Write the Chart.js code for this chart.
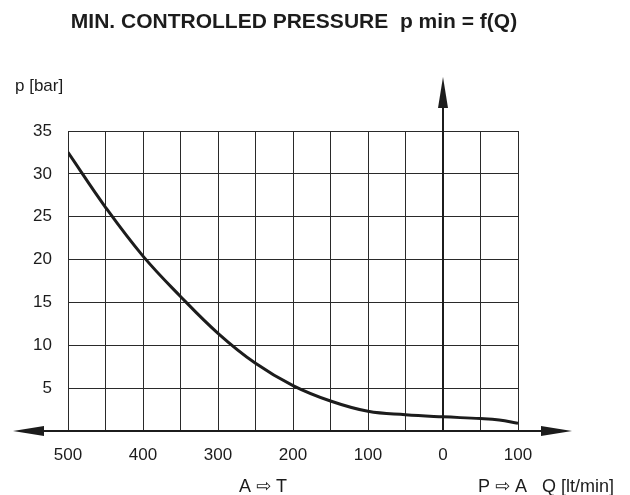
<!DOCTYPE html>
<html>
<head>
<meta charset="utf-8">
<script src="https://cdn.jsdelivr.net/npm/chart.js@4.4.1/dist/chart.umd.min.js"></script>
<style>
	html, body { margin: 0; padding: 0; background: #fff; }
	#wrap { width: 630px; height: 495px; position: relative; }
</style>
</head>
<body>
<div id="wrap"><canvas id="chart"></canvas></div>
<script>
// Q in lt/min: negative side is A -> T, positive side is P -> A
const flowQ = [-500, -450, -400, -350, -300, -250, -200, -150, -100, -50, 0, 50, 75, 100];
const pressureP = [32.5, 26.1, 20.4, 15.7, 11.4, 7.9, 5.3, 3.5, 2.3, 1.9, 1.65, 1.45, 1.28, 0.9];

const xTickValues = [-500, -400, -300, -200, -100, 0, 100];
const xTickLabels = ['500', '400', '300', '200', '100', '0', '100'];
const yTickValues = [5, 10, 15, 20, 25, 30, 35];
const yTickLabels = ['5', '10', '15', '20', '25', '30', '35'];

const chartTitle = 'MIN. CONTROLLED PRESSURE  p min = f(Q)';
const yAxisTitle = 'p [bar]';
const leftFlowTitle = 'A \u21E8 T';
const rightFlowTitle = 'P \u21E8 A   Q [lt/min]';

const fontFamily = '"Liberation Sans", Arial, "DejaVu Sans", sans-serif';
const ink = '#1c1c1c';

function arrowHead(ctx, tipX, tipY, dx, dy, len, half) {
	// dx,dy: unit direction of the arrow
	let bx = tipX - dx * len;
	let by = tipY - dy * len;
	ctx.beginPath();
	ctx.moveTo(tipX, tipY);
	ctx.lineTo(bx - dy * half, by + dx * half);
	ctx.lineTo(bx + dy * half, by - dx * half);
	ctx.closePath();
	ctx.fill();
}

const decorPlugin = {
	id: 'decor',
	beforeDatasetsDraw(chart) {
		const ctx = chart.ctx;
		const area = chart.chartArea;
		const x0 = chart.scales.x.getPixelForValue(0);
		const y0 = chart.scales.y.getPixelForValue(0);
		ctx.save();
		ctx.strokeStyle = ink;
		ctx.fillStyle = ink;
		ctx.lineWidth = 2;
		// Q axis, both directions
		ctx.beginPath();
		ctx.moveTo(area.left - 45, y0);
		ctx.lineTo(area.right + 40, y0);
		ctx.stroke();
		arrowHead(ctx, area.left - 55, y0, -1, 0, 31, 5);
		arrowHead(ctx, area.right + 54, y0, 1, 0, 31, 5);
		// p axis on Q = 0
		ctx.beginPath();
		ctx.moveTo(x0, y0);
		ctx.lineTo(x0, area.top - 40);
		ctx.stroke();
		arrowHead(ctx, x0, area.top - 54, 0, -1, 31, 5);
		ctx.restore();
	},
	afterDraw(chart) {
		const ctx = chart.ctx;
		ctx.save();
		ctx.fillStyle = ink;
		ctx.textBaseline = 'alphabetic';
		ctx.textAlign = 'center';
		ctx.font = 'bold 21px ' + fontFamily;
		ctx.fillText(chartTitle, 294, 28);
		ctx.font = '17px ' + fontFamily;
		ctx.textAlign = 'left';
		ctx.fillText(yAxisTitle, 15, 91);
		ctx.font = '18px ' + fontFamily;
		ctx.textAlign = 'center';
		ctx.fillText(leftFlowTitle, 263, 492);
		ctx.textAlign = 'right';
		ctx.fillText(rightFlowTitle, 614, 492);
		ctx.restore();
	}
};

const points = flowQ.map((q, i) => ({x: q, y: pressureP[i]}));

new Chart(document.getElementById('chart'), {
	type: 'line',
	data: {
		datasets: [{
			data: points,
			borderColor: ink,
			borderWidth: 3,
			pointRadius: 0,
			fill: false,
			tension: 0.4,
		}],
	},
	options: {
		responsive: true,
		maintainAspectRatio: false,
		animation: false,
		devicePixelRatio: 1,
		layout: {
			padding: {top: 131, right: 112, bottom: 0, left: 0},
		},
		plugins: {
			legend: {display: false},
			tooltip: {enabled: false},
			title: {display: false},
		},
		scales: {
			x: {
				type: 'linear',
				min: -500,
				max: 100,
				afterFit: (scale) => { scale.height = 64; },
				grid: {color: '#2a2a2a', lineWidth: 1, drawTicks: false},
				border: {display: false},
				ticks: {
					stepSize: 50,
					padding: 14,
					color: ink,
					font: {family: fontFamily, size: 17},
					maxRotation: 0,
					autoSkip: false,
					callback: (v) => {
						let i = xTickValues.indexOf(v);
						return (i === -1) ? '' : xTickLabels[i];
					},
				},
			},
			y: {
				type: 'linear',
				min: 0,
				max: 35,
				afterFit: (scale) => { scale.width = 68; },
				grid: {color: '#2a2a2a', lineWidth: 1, drawTicks: false},
				border: {color: '#2a2a2a', width: 1},
				ticks: {
					stepSize: 5,
					padding: 16,
					color: ink,
					font: {family: fontFamily, size: 17},
					callback: (v) => {
						let i = yTickValues.indexOf(v);
						return (i === -1) ? '' : yTickLabels[i];
					},
				},
			},
		},
	},
	plugins: [decorPlugin],
});
</script>
</body>
</html>
